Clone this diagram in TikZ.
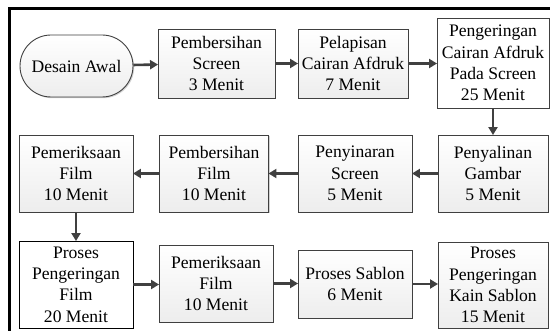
\documentclass[tikz,border=0pt]{standalone}
\usepackage{fontspec}
\setmainfont{Liberation Serif}
\usetikzlibrary{shapes.misc,shadows,arrows.meta}
\definecolor{edge}{HTML}{404040}
\tikzset{
  base/.style={draw=edge, line width=0.9pt, align=center, inner sep=0pt,
    font=\fontsize{17.6}{21.3}\selectfont, text=black},
  gbox/.style={base, rectangle, top color=white, bottom color=gray!14,
    drop shadow={opacity=0.35, shadow xshift=1.2pt, shadow yshift=-1.2pt}},
  wbox/.style={base, rectangle, fill=white},
  term/.style={gbox, rounded rectangle},
  arr/.style={draw=edge, line width=2.6pt, -{Triangle[length=8pt,width=9pt]}, shorten >=-0.5pt},
}
\begin{document}
\begin{tikzpicture}[x=1pt,y=-1pt]
\useasboundingbox (0,0) rectangle (550,331);
\fill[white] (0,0) rectangle (550,331);
% frame
\draw[line width=3pt, black] (8,9) -- (550,9);
\draw[line width=3pt, black] (9.5,7.5) -- (9.5,331);
% row 1
\node[term, minimum width=113, minimum height=62] (desain) at (76.5,66) {Desain Awal};
\node[gbox, minimum width=117, minimum height=69] (ps) at (216.5,63.5) {Pembersihan\\Screen\\3 Menit};
\node[gbox, minimum width=110, minimum height=69] (pca) at (353,63.5) {Pelapisan\\Cairan Afdruk\\7 Menit};
\node[wbox, minimum width=112, minimum height=90] (pcap) at (493,63) {Pengeringan\\Cairan Afdruk\\Pada Screen\\25 Menit};
% row 2
\node[gbox, minimum width=110, minimum height=77] (pg) at (493,173.5) {Penyalinan\\Gambar\\5 Menit};
\node[gbox, minimum width=114, minimum height=77] (psc) at (355,173.5) {Penyinaran\\Screen\\5 Menit};
\node[gbox, minimum width=109, minimum height=77] (pf) at (214,173.5) {Pembersihan\\Film\\10 Menit};
\node[gbox, minimum width=114, minimum height=77] (pmf) at (76,173.5) {Pemeriksaan\\Film\\10 Menit};
% row 3
\node[wbox, draw=black, minimum width=114, minimum height=87] (ppf) at (76,284.5) {Proses\\Pengeringan\\Film\\20 Menit};
\node[gbox, minimum width=114, minimum height=77] (pmf2) at (216,283.5) {Pemeriksaan\\Film\\10 Menit};
\node[gbox, minimum width=114, minimum height=68] (sablon) at (355,284) {Proses Sablon\\6 Menit};
\node[gbox, minimum width=110, minimum height=86] (kain) at (493,285) {Proses\\Pengeringan\\Kain Sablon\\15 Menit};
% connectors
\draw[arr] (desain) -- (ps);
\draw[arr] (ps) -- (pca);
\draw[arr] (pca) -- (pca -| pcap.west);
\draw[arr] (pcap) -- (pg);
\draw[arr] (pg) -- (psc);
\draw[arr] (psc) -- (pf);
\draw[arr] (pf) -- (pmf);
\draw[arr] (pmf) -- (ppf);
\draw[arr] (ppf) -- (ppf -| pmf2.west);
\draw[arr] (pmf2) -- (pmf2 -| sablon.west);
\draw[arr] (sablon) -- (sablon -| kain.west);
\end{tikzpicture}
\end{document}
